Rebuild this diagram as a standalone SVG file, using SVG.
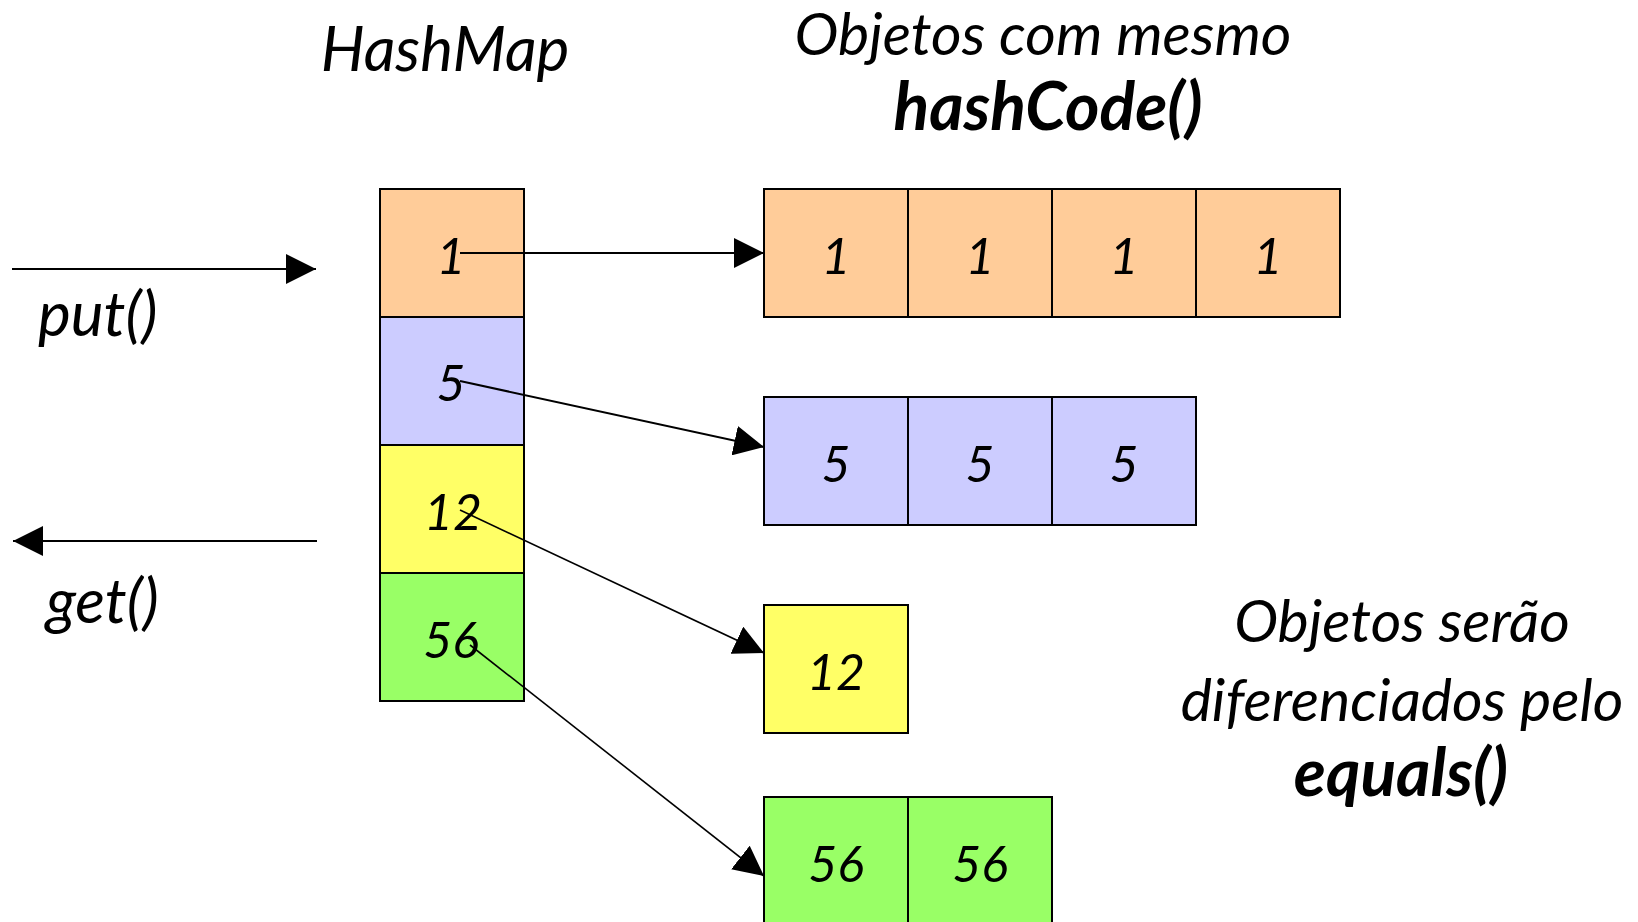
<svg xmlns="http://www.w3.org/2000/svg" width="1638" height="922" viewBox="0 0 1638 922">
  <style>
    text { font-family: Lato, "Open Sans", "DejaVu Sans", sans-serif; font-style: italic; fill: #000; }
    .title { font-size: 62px; }
    .note { font-size: 59px; }
    .bold { font-weight: bold; font-size: 66px; }
    .num { font-size: 50px; text-anchor: middle; }
    .mid { text-anchor: middle; }
    .cell { stroke: #000; stroke-width: 2; }
    .orange { fill: #FFCC99; }
    .purple { fill: #CCCCFF; }
    .yellow { fill: #FFFF66; }
    .green { fill: #99FF66; }
    .link { stroke: #000; fill: none; }
  </style>
  <defs>
    <marker id="head" markerUnits="userSpaceOnUse" markerWidth="30" markerHeight="30" viewBox="0 0 28 28" refX="28" refY="14" orient="auto">
      <path d="M0,0 L28,14 L0,28 Z" fill="#000"/>
    </marker>
  </defs>

  <rect width="1638" height="922" fill="#fff"/>

  <!-- captions -->
  <g id="captions">
    <text class="title mid" x="445" y="71">HashMap</text>
    <text class="note mid" x="1043" y="55">Objetos com mesmo</text>
    <text class="bold mid" x="1048" y="130">hashCode()</text>
    <text class="title" x="38" y="336" font-size="64">put()</text>
    <text class="title" x="46" y="623" font-size="64">get()</text>
    <text class="note mid" x="1402" y="642">Objetos serão</text>
    <text class="note mid" x="1402" y="721">diferenciados pelo</text>
    <text class="bold mid" x="1401" y="796">equals()</text>
  </g>

  <!-- hash table column -->
  <g id="hashmap">
    <rect class="cell orange" x="380" y="189" width="144" height="128"/>
    <rect class="cell purple" x="380" y="317" width="144" height="128"/>
    <rect class="cell yellow" x="380" y="445" width="144" height="128"/>
    <rect class="cell green" x="380" y="573" width="144" height="128"/>
    <text class="num" x="451" y="274">1</text>
    <text class="num" x="451" y="401">5</text>
    <text class="num" x="453" y="530">12</text>
    <text class="num" x="451" y="658">56</text>
  </g>

  <!-- bucket for hash 1 -->
  <g id="bucket-1">
    <rect class="cell orange" x="764" y="189" width="144" height="128"/>
    <rect class="cell orange" x="908" y="189" width="144" height="128"/>
    <rect class="cell orange" x="1052" y="189" width="144" height="128"/>
    <rect class="cell orange" x="1196" y="189" width="144" height="128"/>
    <text class="num" x="836" y="274">1</text>
    <text class="num" x="980" y="274">1</text>
    <text class="num" x="1124" y="274">1</text>
    <text class="num" x="1268" y="274">1</text>
  </g>

  <!-- bucket for hash 5 -->
  <g id="bucket-5">
    <rect class="cell purple" x="764" y="397" width="144" height="128"/>
    <rect class="cell purple" x="908" y="397" width="144" height="128"/>
    <rect class="cell purple" x="1052" y="397" width="144" height="128"/>
    <text class="num" x="836" y="482">5</text>
    <text class="num" x="980" y="482">5</text>
    <text class="num" x="1124" y="482">5</text>
  </g>

  <!-- bucket for hash 12 -->
  <g id="bucket-12">
    <rect class="cell yellow" x="764" y="605" width="144" height="128"/>
    <text class="num" x="836" y="690">12</text>
  </g>

  <!-- bucket for hash 56 -->
  <g id="bucket-56">
    <rect class="cell green" x="764" y="797" width="144" height="128"/>
    <rect class="cell green" x="908" y="797" width="144" height="128"/>
    <text class="num" x="836" y="882">56</text>
    <text class="num" x="980" y="882">56</text>
  </g>

  <!-- connectors -->
  <g id="connectors">
    <line class="link" stroke-width="2" x1="12" y1="269" x2="316" y2="269" marker-end="url(#head)"/>
    <line class="link" stroke-width="2" x1="317" y1="541" x2="13" y2="541" marker-end="url(#head)"/>
    <line class="link" stroke-width="2" x1="460" y1="253" x2="764" y2="253" marker-end="url(#head)"/>
    <line class="link" stroke-width="2" x1="460" y1="381" x2="764" y2="447" marker-end="url(#head)"/>
    <line class="link" stroke-width="1.6" x1="460" y1="510" x2="764" y2="653" marker-end="url(#head)"/>
    <line class="link" stroke-width="1.6" x1="470" y1="645" x2="764" y2="876" marker-end="url(#head)"/>
  </g>
</svg>
